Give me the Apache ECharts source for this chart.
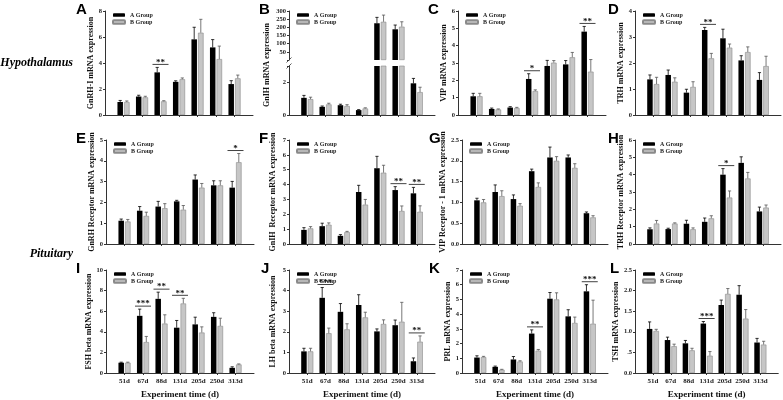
<!DOCTYPE html>
<html>
<head>
<meta charset="utf-8">
<script src="https://cdn.jsdelivr.net/npm/echarts@6/dist/echarts.min.js"></script>
<style>
  html, body { margin: 0; padding: 0; background: #fff; }
  #chart { width: 783px; height: 400px; }
</style>
</head>
<body>
<div id="chart"></div>
<script>
const days = ['51d', '67d', '88d', '131d', '205d', '250d', '313d']

// A  GnRH-I
const gnrhA = [1.0, 1.42, 3.28, 2.55, 5.82, 5.2, 2.38]
const gnrhB = [1.0, 1.36, 1.05, 2.75, 6.33, 4.3, 2.82]
const gnrhAErr = [0.12, 0.1, 0.38, 0.08, 0.93, 0.6, 0.26]
const gnrhBErr = [0.08, 0.08, 0.05, 0.1, 1.03, 1.0, 0.25]
const gnrhSig = ['', '', '**', '', '', '', '']

// B  GnIH (broken axis)
const gnihA = [1.05, 0.5, 0.6, 0.3, 225, 188, 1.94]
const gnihB = [0.97, 0.65, 0.55, 0.4, 234, 204, 1.4]
const gnihAErr = [0.15, 0.05, 0.06, 0.03, 36, 26, 0.3]
const gnihBErr = [0.12, 0.07, 0.08, 0.04, 41, 30, 0.3]
const gnihSig = ['', '', '', '', '', '', '']

// C  VIP
const vipA = [1.08, 0.35, 0.43, 2.08, 2.83, 2.92, 4.81]
const vipB = [1.08, 0.32, 0.4, 1.38, 3.02, 3.33, 2.5]
const vipAErr = [0.17, 0.05, 0.05, 0.3, 0.32, 0.22, 0.3]
const vipBErr = [0.17, 0.03, 0.04, 0.07, 0.12, 0.28, 0.7]
const vipSig = ['', '', '', '*', '', '', '**']

// D  TRH
const trhA = [1.37, 1.54, 0.86, 3.27, 2.95, 2.1, 1.35]
const trhB = [1.19, 1.28, 1.08, 2.18, 2.59, 2.42, 1.88]
const trhAErr = [0.17, 0.19, 0.13, 0.1, 0.35, 0.18, 0.28]
const trhBErr = [0.26, 0.15, 0.2, 0.19, 0.14, 0.2, 0.38]
const trhSig = ['', '', '', '**', '', '', '']

// E  GnRH receptor
const gnrhrA = [1.12, 1.6, 1.8, 2.05, 3.1, 2.82, 2.71]
const gnrhrB = [1.08, 1.35, 1.72, 1.65, 2.71, 2.82, 3.93]
const gnrhrAErr = [0.08, 0.2, 0.25, 0.05, 0.22, 0.22, 0.3]
const gnrhrBErr = [0.1, 0.18, 0.22, 0.2, 0.2, 0.22, 0.42]
const gnrhrSig = ['', '', '', '', '', '', '*']

// F  GnIH receptor
const gnihrA = [0.95, 1.2, 0.55, 3.5, 5.1, 3.63, 3.41]
const gnihrB = [1.05, 1.3, 0.8, 2.65, 4.8, 2.22, 2.17]
const gnihrAErr = [0.15, 0.2, 0.08, 0.45, 0.8, 0.23, 0.4]
const gnihrBErr = [0.12, 0.12, 0.05, 0.35, 0.5, 0.34, 0.4]
const gnihrSig = ['', '', '', '', '', '**', '**']

// G  VIP receptor-1
const viprA = [1.05, 1.25, 1.08, 1.75, 2.08, 2.08, 0.74]
const viprB = [1.0, 1.15, 0.92, 1.37, 2.0, 1.83, 0.64]
const viprAErr = [0.05, 0.17, 0.1, 0.05, 0.25, 0.06, 0.03]
const viprBErr = [0.07, 0.13, 0.05, 0.1, 0.1, 0.1, 0.04]
const viprSig = ['', '', '', '', '', '', '']

// H  TRH receptor
const trhrA = [0.85, 0.86, 1.17, 1.28, 4.0, 4.68, 1.88]
const trhrB = [1.18, 1.18, 0.85, 1.48, 2.68, 3.78, 2.1]
const trhrAErr = [0.08, 0.05, 0.2, 0.22, 0.35, 0.35, 0.25]
const trhrBErr = [0.18, 0.04, 0.08, 0.15, 0.38, 0.35, 0.15]
const trhrSig = ['', '', '', '', '*', '', '']

// I  FSH beta
const fshA = [1.0, 5.55, 7.2, 4.4, 4.72, 5.45, 0.5]
const fshB = [1.0, 3.0, 4.8, 6.75, 3.93, 4.57, 0.83]
const fshAErr = [0.05, 0.65, 0.65, 0.7, 0.7, 0.4, 0.1]
const fshBErr = [0.05, 0.55, 0.85, 0.5, 0.55, 0.75, 0.05]
const fshSig = ['', '***', '**', '**', '', '', '']

// J  LH beta
const lhA = [1.05, 3.65, 2.97, 3.3, 2.02, 2.32, 0.57]
const lhB = [1.05, 1.93, 2.12, 2.7, 2.38, 2.49, 1.52]
const lhAErr = [0.15, 0.5, 0.4, 0.5, 0.12, 0.25, 0.16]
const lhBErr = [0.15, 0.25, 0.27, 0.25, 0.2, 0.94, 0.28]
const lhSig = ['', '***', '', '', '', '', '**']

// K  PRL
const prlA = [1.05, 0.42, 0.92, 2.68, 5.05, 3.85, 5.55]
const prlB = [1.08, 0.22, 0.78, 1.52, 5.0, 3.4, 3.35]
const prlAErr = [0.12, 0.05, 0.2, 0.25, 0.42, 0.45, 0.45]
const prlBErr = [0.05, 0.03, 0.05, 0.08, 0.45, 0.4, 1.6]
const prlSig = ['', '', '', '**', '', '', '***']

// L  TSH
const tshA = [1.07, 0.8, 0.72, 1.2, 1.65, 1.9, 0.74]
const tshB = [1.02, 0.65, 0.55, 0.42, 1.92, 1.32, 0.69]
const tshAErr = [0.17, 0.07, 0.07, 0.05, 0.12, 0.22, 0.1]
const tshBErr = [0.04, 0.05, 0.05, 0.1, 0.13, 0.22, 0.08]
const tshSig = ['', '', '', '***', '', '', '']

const serif = '"Liberation Serif", "Times New Roman", serif'
const sans = '"Liberation Sans", Arial, sans-serif'
const slots = [' ', ...days, '  ']
const pad = arr => [null, ...arr, null]

const rowTop = [11, 140, 270]
const plotH = 104
const barW = 5.5
const gapPct = 20
const off = (barW + barW * gapPct / 100) / 2

const fmt1 = v => v.toFixed(1)
const fmtL = v => (v === 0.5 ? '.5' : v.toFixed(1))

const panels = [
  { key: 'A', name: 'GnRH-I mRNA expression', a: gnrhA, b: gnrhB, ea: gnrhAErr, eb: gnrhBErr, sig: gnrhSig, max: 8, step: 2, left: 105, w: 148, row: 0, gap: 7, lx: 76 },
  { key: 'B', name: 'GnIH mRNA expression', a: gnihA, b: gnihB, ea: gnihAErr, eb: gnihBErr, sig: gnihSig, broken: true, left: 289, w: 146, row: 0, gap: 18, lx: 259 },
  { key: 'C', name: 'VIP mRNA expression', a: vipA, b: vipB, ea: vipAErr, eb: vipBErr, sig: vipSig, max: 6, step: 1, left: 458, w: 148, row: 0, gap: 5, lx: 428 },
  { key: 'D', name: 'TRH mRNA expression', a: trhA, b: trhB, ea: trhAErr, eb: trhBErr, sig: trhSig, max: 4, step: 1, left: 635, w: 146, row: 0, gap: 7, lx: 608 },
  { key: 'E', name: 'GnRH Receptor mRNA expression', a: gnrhrA, b: gnrhrB, ea: gnrhrAErr, eb: gnrhrBErr, sig: gnrhrSig, max: 5, step: 1, left: 106, w: 148, row: 1, gap: 7, lx: 76 },
  { key: 'F', name: 'GnIH  Receptor mRNA expression', a: gnihrA, b: gnihrB, ea: gnihrAErr, eb: gnihrBErr, sig: gnihrSig, max: 7, step: 1, left: 289, w: 146, row: 1, gap: 12, lx: 259 },
  { key: 'G', name: 'VIP Receptor - 1 mRNA expression', a: viprA, b: viprB, ea: viprAErr, eb: viprBErr, sig: viprSig, max: 2.5, step: 0.5, fmt: fmt1, left: 462, w: 146, row: 1, gap: 10, lx: 429 },
  { key: 'H', name: 'TRH Receptor mRNA expression', a: trhrA, b: trhrB, ea: trhrAErr, eb: trhrBErr, sig: trhrSig, max: 6, step: 1, left: 635, w: 146, row: 1, gap: 7, lx: 608 },
  { key: 'I', name: 'FSH beta mRNA expression', a: fshA, b: fshB, ea: fshAErr, eb: fshBErr, sig: fshSig, max: 10, step: 2, left: 106, w: 148, row: 2, gap: 12, lx: 76 },
  { key: 'J', name: 'LH beta mRNA expression', a: lhA, b: lhB, ea: lhAErr, eb: lhBErr, sig: lhSig, max: 5, step: 1, left: 289, w: 146, row: 2, gap: 12, lx: 261 },
  { key: 'K', name: 'PRL mRNA expression', a: prlA, b: prlB, ea: prlAErr, eb: prlBErr, sig: prlSig, max: 7, step: 1, left: 462, w: 146, row: 2, gap: 6, lx: 429 },
  { key: 'L', name: 'TSH mRNA expression', a: tshA, b: tshB, ea: tshAErr, eb: tshBErr, sig: tshSig, max: 2.5, step: 0.5, fmt: fmtL, left: 635, w: 146, row: 2, gap: 10, lx: 610 }
]

const option = {
  animation: false,
  backgroundColor: '#fff',
  grid: [], xAxis: [], yAxis: [], series: [], legend: [], graphic: []
}

// error bars + significance marks, drawn in pixel space from the axis scale
function errRender (p, lo, hi) {
  return function (params, api) {
    const i = params.dataIndex
    const cx = api.coord([i + 1, 0])[0]
    const kids = []
    let top = null
    ;[[p.a, p.ea, -off, '#000'], [p.b, p.eb, off, '#555']].forEach(([m, e, dx, c]) => {
      const v = m[i]
      const vTop = m[i] + e[i]
      if (v < lo || vTop > hi) return
      const x = cx + dx
      const y0 = api.coord([i + 1, v])[1]
      const y1 = api.coord([i + 1, vTop])[1]
      kids.push({ type: 'line', shape: { x1: x, y1: y0, x2: x, y2: y1 }, style: { stroke: c, lineWidth: 0.8 } })
      kids.push({ type: 'line', shape: { x1: x - 1.6, y1: y1, x2: x + 1.6, y2: y1 }, style: { stroke: c, lineWidth: 0.8 } })
      top = top === null ? y1 : Math.min(top, y1)
    })
    if (p.sig[i] && top !== null) {
      const ly = top - 3
      kids.push({ type: 'line', shape: { x1: cx - 8, y1: ly, x2: cx + 8, y2: ly }, style: { stroke: '#111', lineWidth: 0.8 } })
      kids.push({ type: 'text', x: cx, y: ly + 2.5, style: { text: p.sig[i], font: 'bold 9px ' + serif, align: 'center', verticalAlign: 'bottom', fill: '#111' } })
    }
    return { type: 'group', children: kids }
  }
}

function addCartesian (p, g, y, opt) {
  const idx = option.grid.length
  option.grid.push(g)
  option.xAxis.push({
    type: 'category', gridIndex: idx, data: slots, boundaryGap: false,
    axisLine: { show: opt.xLine, lineStyle: { color: '#333', width: 1 } },
    axisTick: { show: opt.xLine, length: 2, interval: (i) => i > 0 && i < slots.length - 1, lineStyle: { color: '#333' } },
    axisLabel: { show: p.row === 2, interval: 0, fontFamily: serif, fontSize: 7, fontWeight: 'bold', color: '#222', margin: 5 },
    name: p.row === 2 ? 'Experiment time (d)' : '',
    nameLocation: 'middle', nameGap: 17,
    nameTextStyle: { fontFamily: serif, fontSize: 9, fontWeight: 'bold', color: '#111' }
  })
  option.yAxis.push({
    type: 'value', gridIndex: idx, min: 0, max: y.max, interval: y.step,
    axisLine: { show: true, lineStyle: { color: '#333', width: 1 } },
    axisTick: { show: true, length: 2, lineStyle: { color: '#333' } },
    splitLine: { show: false },
    axisLabel: { fontFamily: serif, fontSize: 6.5, fontWeight: 'bold', color: '#222', margin: 3, formatter: y.fmt },
    name: y.name || '', nameLocation: 'middle', nameGap: p.gap,
    nameTextStyle: { fontFamily: serif, fontSize: 8, fontWeight: 'bold', color: '#111' }
  })
  const keep = v => (v >= opt.lo ? v : null)
  option.series.push({
    name: 'A Group', type: 'bar', xAxisIndex: idx, yAxisIndex: idx,
    data: pad(p.a.map(keep)), barWidth: barW, barGap: gapPct + '%',
    itemStyle: { color: '#000' }
  }, {
    name: 'B Group', type: 'bar', xAxisIndex: idx, yAxisIndex: idx,
    data: pad(p.b.map(keep)), barWidth: barW, barGap: gapPct + '%',
    itemStyle: { color: '#c6c6c6', borderColor: '#8a8a8a', borderWidth: 0.6 }
  }, {
    type: 'custom', xAxisIndex: idx, yAxisIndex: idx, silent: true, z: 5,
    data: days.map((d, i) => [i + 1]),
    renderItem: errRender(p, opt.lo, opt.hi)
  })
  if (opt.legend) {
    option.legend.push({
      left: p.left + 7, top: g.top + 1, orient: 'vertical', padding: 0,
      itemWidth: 12, itemHeight: 3.5, itemGap: 1, selectedMode: false,
      data: ['A Group', 'B Group'],
      textStyle: { fontFamily: serif, fontSize: 6, fontWeight: 'bold', color: '#222', lineHeight: 6 }
    })
  }
}

panels.forEach(p => {
  const top = rowTop[p.row]
  if (p.broken) {
    // upper part 0..300 (0 hidden), lower part 0..3
    addCartesian(p, { left: p.left, top: top, width: p.w, height: 49 },
      { max: 300, step: 50, fmt: v => (v === 0 ? '' : v) },
      { xLine: false, lo: 3, hi: 300, legend: true })
    addCartesian(p, { left: p.left, top: top + 55, width: p.w, height: 49 },
      { max: 3, step: 2, fmt: v => (v === 3 ? '' : v) },
      { xLine: true, lo: 0, hi: 3, legend: false })
    option.graphic.push(
      { type: 'text', x: p.left - p.gap - 4, y: top + 54, rotation: Math.PI / 2,
        style: { text: p.name, font: 'bold 8px ' + serif, fill: '#111', align: 'center', verticalAlign: 'middle' } },
      { type: 'line', shape: { x1: p.left - 2.5, y1: top + 51.5, x2: p.left + 2.5, y2: top + 46.5 }, style: { stroke: '#333', lineWidth: 0.8 } },
      { type: 'line', shape: { x1: p.left - 2.5, y1: top + 57.5, x2: p.left + 2.5, y2: top + 52.5 }, style: { stroke: '#333', lineWidth: 0.8 } }
    )
  } else {
    addCartesian(p, { left: p.left, top: top, width: p.w, height: plotH },
      { max: p.max, step: p.step, fmt: p.fmt, name: p.name },
      { xLine: true, lo: 0, hi: p.max, legend: true })
  }
  option.graphic.push({
    type: 'text', left: p.lx, top: top - 9,
    style: { text: p.key, font: 'bold 15px ' + sans, fill: '#000' }
  })
})

option.graphic.push(
  { type: 'text', x: 73, y: 63, style: { text: 'Hypothalamus', font: 'italic bold 12px ' + serif, fill: '#000', align: 'right', verticalAlign: 'middle' } },
  { type: 'text', x: 73, y: 254, style: { text: 'Pituitary', font: 'italic bold 12px ' + serif, fill: '#000', align: 'right', verticalAlign: 'middle' } }
)

const myChart = echarts.init(document.getElementById('chart'), null, { renderer: 'canvas' })
myChart.setOption(option)
</script>
</body>
</html>
